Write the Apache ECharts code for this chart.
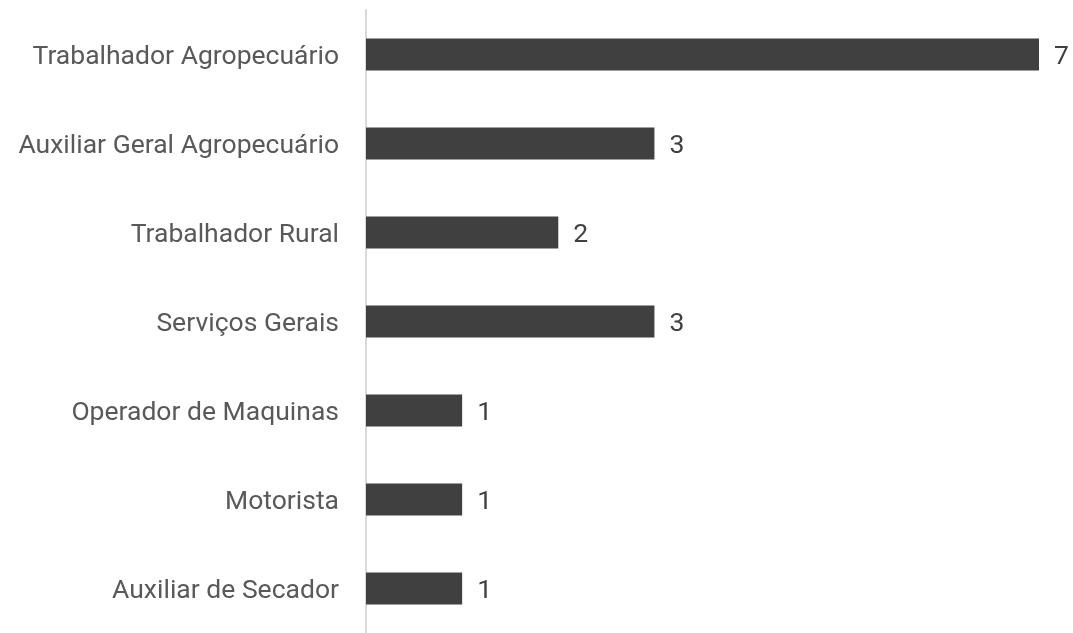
<!DOCTYPE html>
<html>
<head>
<meta charset="utf-8">
<script src="https://cdn.jsdelivr.net/npm/echarts@6/dist/echarts.min.js"></script>
<style>
html, body { margin: 0; padding: 0; background: #fff; }
#main { width: 1073px; height: 633px; }
</style>
</head>
<body>
<div id="main"></div>
<script>
// categories listed bottom to top (ECharts category y axis starts at the bottom)
var categories = ['Auxiliar de Secador', 'Motorista', 'Operador de Maquinas', 'Serviços Gerais',
    'Trabalhador Rural', 'Auxiliar Geral Agropecuário', 'Trabalhador Agropecuário'];
var values = [1, 1, 1, 3, 2, 3, 7];

var myChart = echarts.init(document.getElementById('main'));

var textStyle = {
    fontFamily: 'Roboto',
    fontSize: 26.5,
    padding: [6, 0, 0, 0]
};

var option = {
    animation: false,
    grid: {
        left: 366,
        right: 34,
        top: 10,
        height: 627
    },
    xAxis: {
        type: 'value',
        min: 0,
        max: 7,
        show: false
    },
    yAxis: {
        type: 'category',
        data: categories,
        axisLine: { show: true, lineStyle: { color: '#d9d9d9', width: 2 } },
        axisTick: { show: false },
        axisLabel: {
            color: '#595959',
            fontFamily: 'Roboto',
            fontSize: 26.5,
            margin: 27,
            formatter: '{t|{value}}',
            rich: { t: textStyle }
        }
    },
    series: [{
        type: 'bar',
        data: values,
        barWidth: 32,
        itemStyle: { color: '#404040' },
        label: {
            show: true,
            position: 'right',
            distance: 15,
            color: '#404040',
            fontFamily: 'Roboto',
            fontSize: 26.5,
            formatter: '{t|{c}}',
            rich: { t: textStyle }
        }
    }]
};

myChart.setOption(option);
</script>
</body>
</html>
